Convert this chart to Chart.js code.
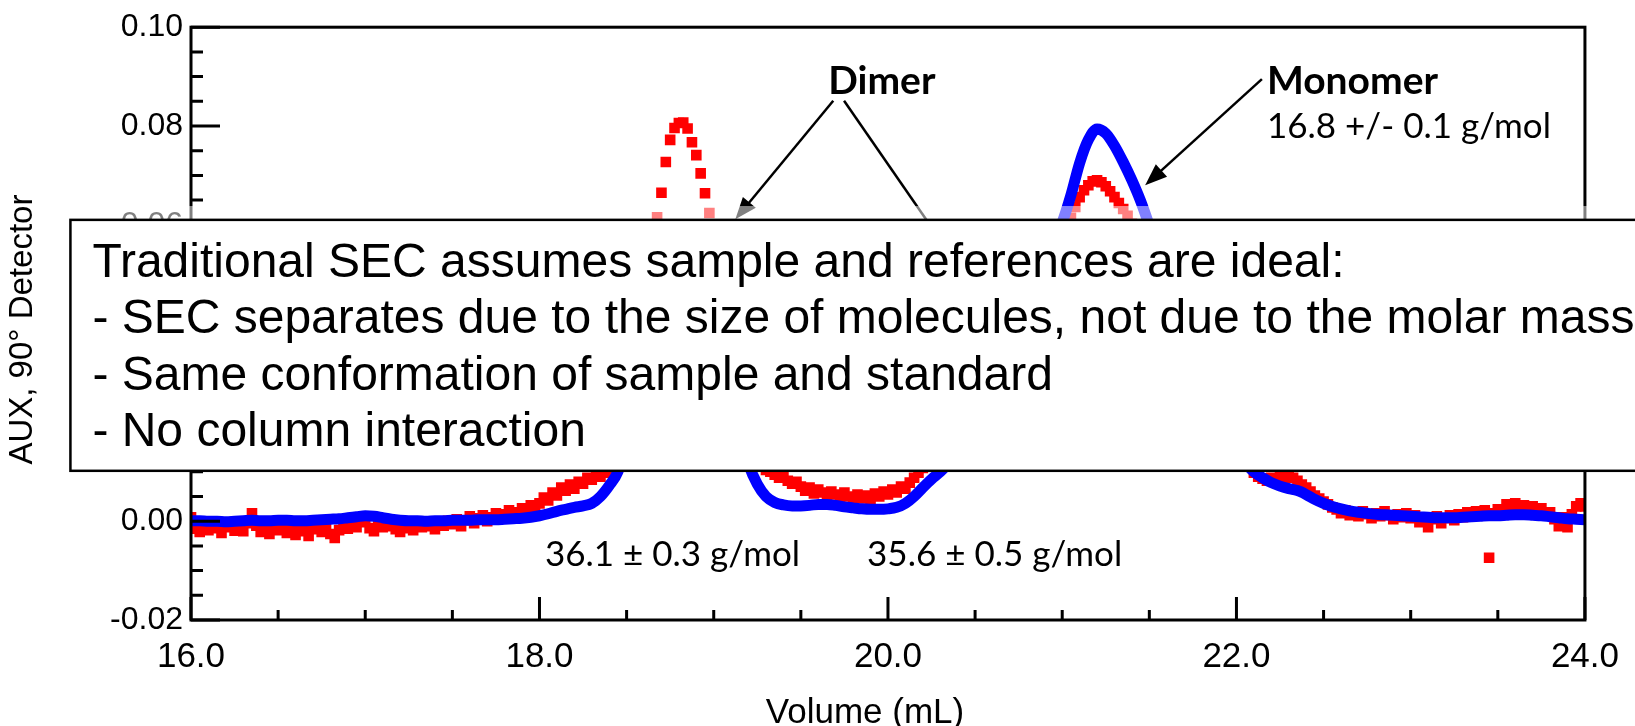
<!DOCTYPE html>
<html>
<head>
<meta charset="utf-8">
<script src="https://cdn.jsdelivr.net/npm/chart.js@4.4.0/dist/chart.umd.min.js"></script>
<style>
  html, body { margin: 0; padding: 0; background: #fff; }
  #wrap { width: 1635px; height: 726px; }
</style>
</head>
<body>
<div id="wrap"><canvas id="chartSec" width="1635" height="726"></canvas></div>
<script>
// sample trace (red squares), one reading every 0.025 mL from 16.0 mL
const redStart = 16.0;
const redStep = 0.025;
const redSignal = [
  0.0008, -0.0015, -0.0022, -0.0010, -0.0018, -0.0008, -0.0014, -0.0024, -0.0012, -0.0006, -0.0019, -0.0011, -0.0020, -0.0004, 0.0016, -0.0009, -0.0022, -0.0014, -0.0026, -0.0012, // 16.0
  -0.0018, -0.0008, -0.0024, -0.0015, -0.0028, -0.0012, -0.0020, -0.0030, -0.0016, -0.0009, -0.0022, -0.0013, -0.0026, -0.0034, -0.0018, -0.0008, -0.0015, -0.0004, -0.0012, -0.0002, // 16.5
  0.0006, -0.0014, -0.0020, -0.0006, -0.0012, 0.0002, -0.0010, -0.0016, -0.0022, -0.0008, -0.0014, -0.0018, -0.0006, -0.0012, -0.0002, -0.0010, -0.0016, -0.0004, -0.0009, 0.0001, // 17.0
  -0.0006, 0.0004, -0.0010, 0.0002, 0.0010, -0.0004, 0.0006, 0.0012, 0.0000, 0.0008, 0.0016, 0.0006, 0.0014, 0.0022, 0.0010, 0.0018, 0.0026, 0.0020, 0.0032, 0.0026, // 17.5
  0.0036, 0.0048, 0.0042, 0.0058, 0.0052, 0.0068, 0.0062, 0.0074, 0.0066, 0.0080, 0.0076, 0.0088, 0.0084, 0.0094, 0.0090, 0.0098, 0.0100, 0.0106, 0.0120, 0.0150, // 18.0
  0.0190, 0.0250, 0.0320, 0.0390, 0.0460, 0.0520, 0.0570, 0.0615, 0.0665, 0.0727, 0.0772, 0.0796, 0.0806, 0.0807, 0.0795, 0.0767, 0.0741, 0.0704, 0.0664, 0.0624, // 18.5
  0.0570, 0.0510, 0.0450, 0.0390, 0.0340, 0.0290, 0.0250, 0.0210, 0.0180, 0.0150, 0.0130, 0.0115, 0.0104, 0.0100, 0.0094, 0.0088, 0.0092, 0.0082, 0.0076, 0.0080, // 19.0
  0.0070, 0.0062, 0.0068, 0.0056, 0.0064, 0.0058, 0.0052, 0.0060, 0.0054, 0.0048, 0.0058, 0.0050, 0.0044, 0.0054, 0.0046, 0.0052, 0.0042, 0.0056, 0.0050, 0.0060, // 19.5
  0.0054, 0.0064, 0.0058, 0.0070, 0.0066, 0.0078, 0.0088, 0.0098, 0.0108, 0.0116, 0.0124, 0.0132, 0.0140, 0.0149, 0.0158, 0.0168, 0.0178, 0.0189, 0.0200, 0.0212, // 20.0
  0.0225, 0.0238, 0.0252, 0.0266, 0.0281, 0.0297, 0.0313, 0.0330, 0.0348, 0.0366, 0.0385, 0.0404, 0.0424, 0.0444, 0.0464, 0.0484, 0.0504, 0.0524, 0.0543, 0.0562, // 20.5
  0.0580, 0.0598, 0.0614, 0.0636, 0.0656, 0.0670, 0.0680, 0.0688, 0.0690, 0.0686, 0.0678, 0.0668, 0.0656, 0.0644, 0.0632, 0.0618, 0.0602, 0.0586, 0.0568, 0.0550, // 21.0
  0.0530, 0.0510, 0.0488, 0.0466, 0.0443, 0.0420, 0.0397, 0.0374, 0.0351, 0.0329, 0.0307, 0.0286, 0.0266, 0.0247, 0.0229, 0.0212, 0.0196, 0.0181, 0.0167, 0.0154, // 21.5
  0.0142, 0.0131, 0.0121, 0.0112, 0.0098, 0.0090, 0.0086, 0.0082, 0.0088, 0.0084, 0.0090, 0.0086, 0.0092, 0.0088, 0.0082, 0.0074, 0.0068, 0.0060, 0.0052, 0.0046, // 22.0
  0.0040, 0.0034, 0.0028, 0.0024, 0.0016, 0.0022, 0.0012, 0.0018, 0.0010, 0.0020, 0.0014, 0.0006, 0.0016, 0.0010, 0.0020, 0.0012, 0.0004, 0.0014, 0.0008, 0.0016, // 22.5
  0.0006, 0.0012, -0.0002, 0.0008, -0.0012, 0.0004, 0.0010, -0.0004, 0.0006, 0.0012, 0.0002, 0.0014, 0.0008, 0.0018, 0.0010, 0.0020, 0.0012, 0.0022, -0.0074, 0.0016, // 23.0
  0.0024, 0.0016, 0.0034, 0.0026, 0.0036, 0.0028, 0.0032, 0.0022, 0.0030, 0.0020, 0.0026, 0.0012, 0.0018, 0.0004, -0.0010, 0.0008, -0.0012, 0.0014, 0.0030, 0.0036, // 23.5
  0.0030 // 24.0
];

// standard trace (blue), one reading every 0.05 mL from 16.0 mL
const blueStart = 16.0;
const blueStep = 0.05;
const blueSignal = [
  0.0001, 0.0001, 0.0000, 0.0000, -0.0001, 0.0000, 0.0001, 0.0002, 0.0001, 0.0001, 0.0002, 0.0002, 0.0001, 0.0001, 0.0002, 0.0003, 0.0004, 0.0005, 0.0007, 0.0009, // 16
  0.0011, 0.0010, 0.0007, 0.0004, 0.0002, 0.0001, 0.0001, 0.0000, 0.0001, 0.0001, 0.0002, 0.0002, 0.0002, 0.0003, 0.0003, 0.0003, 0.0004, 0.0005, 0.0006, 0.0008, // 17
  0.0011, 0.0015, 0.0020, 0.0024, 0.0028, 0.0031, 0.0036, 0.0050, 0.0072, 0.0100, 0.0160, 0.0220, 0.0290, 0.0360, 0.0420, 0.0465, 0.0490, 0.0495, 0.0475, 0.0435, // 18
  0.0380, 0.0315, 0.0245, 0.0175, 0.0115, 0.0075, 0.0050, 0.0038, 0.0033, 0.0031, 0.0031, 0.0032, 0.0034, 0.0034, 0.0032, 0.0029, 0.0027, 0.0025, 0.0024, 0.0024, // 19
  0.0025, 0.0028, 0.0036, 0.0050, 0.0068, 0.0085, 0.0100, 0.0118, 0.0140, 0.0165, 0.0195, 0.0230, 0.0270, 0.0315, 0.0365, 0.0410, 0.0450, 0.0495, 0.0535, 0.0570, // 20
  0.0605, 0.0660, 0.0725, 0.0772, 0.0794, 0.0785, 0.0760, 0.0727, 0.0690, 0.0648, 0.0598, 0.0545, 0.0490, 0.0435, 0.0380, 0.0330, 0.0282, 0.0240, 0.0200, 0.0165, // 21
  0.0135, 0.0118, 0.0100, 0.0088, 0.0078, 0.0071, 0.0066, 0.0062, 0.0054, 0.0044, 0.0036, 0.0030, 0.0025, 0.0021, 0.0018, 0.0016, 0.0014, 0.0013, 0.0012, 0.0011, // 22
  0.0010, 0.0009, 0.0008, 0.0007, 0.0007, 0.0007, 0.0008, 0.0009, 0.0010, 0.0011, 0.0011, 0.0012, 0.0013, 0.0013, 0.0012, 0.0011, 0.0009, 0.0007, 0.0005, 0.0004, // 23
  0.0003 // 24
];

const boxLines = [
  'Traditional SEC assumes sample and references are ideal:',
  '- SEC separates due to the size of molecules, not due to the molar mass',
  '- Same conformation of sample and standard',
  '- No column interaction'
];
const dimerMasses = ['36.1 \u00b1 0.3 g/mol', '35.6 \u00b1 0.5 g/mol'];
const monomerMass = '16.8 +/- 0.1 g/mol';

const redPoints = redSignal.map((s, i) => ({ x: redStart + i * redStep, y: s }));
const bluePoints = blueSignal.map((s, i) => ({ x: blueStart + i * blueStep, y: s }));

const ARIAL = '"Liberation Sans", Arial, sans-serif';
const CALIB = 'Lato, "Open Sans", sans-serif';

function arrow(ctx, x1, y1, x2, y2, head) {
  const ang = Math.atan2(y2 - y1, x2 - x1);
  ctx.beginPath();
  ctx.moveTo(x1, y1);
  ctx.lineTo(x2 - Math.cos(ang) * head * 0.8, y2 - Math.sin(ang) * head * 0.8);
  ctx.stroke();
  if (!head) return;
  ctx.beginPath();
  ctx.moveTo(x2, y2);
  ctx.lineTo(x2 - head * Math.cos(ang) + head * 0.38 * Math.sin(ang), y2 - head * Math.sin(ang) - head * 0.38 * Math.cos(ang));
  ctx.lineTo(x2 - head * Math.cos(ang) - head * 0.38 * Math.sin(ang), y2 - head * Math.sin(ang) + head * 0.38 * Math.cos(ang));
  ctx.closePath();
  ctx.fill();
}

// frame, inside ticks, callouts and the assumptions box
const secOverlay = {
  id: 'secOverlay',
  afterDatasetsDraw(chart) {
    const { ctx, chartArea: a, scales: { x, y } } = chart;
    const px = v => x.getPixelForValue(v);
    const py = v => y.getPixelForValue(v);
    ctx.save();

    ctx.strokeStyle = '#000';
    ctx.lineWidth = 3;
    ctx.strokeRect(a.left, a.top, a.right - a.left, a.bottom - a.top);
    ctx.beginPath();
    for (let i = 0; i <= 24; i++) {
      const yy = py(-0.02 + i * 0.005);
      ctx.moveTo(a.left, yy);
      ctx.lineTo(a.left + (i % 4 === 0 ? 29 : 12), yy);
    }
    for (let i = 0; i <= 16; i++) {
      const xx = px(16 + i * 0.5);
      ctx.moveTo(xx, a.bottom);
      ctx.lineTo(xx, a.bottom - (i % 4 === 0 ? 23 : 10));
    }
    ctx.stroke();

    // axis titles
    ctx.fillStyle = '#000';
    ctx.textAlign = 'center';
    ctx.textBaseline = 'middle';
    ctx.font = '35px ' + ARIAL;
    ctx.fillText('Volume (mL)', px(19.868), 713);
    ctx.font = '33px ' + ARIAL;
    ctx.save();
    ctx.translate(23, (a.top + a.bottom) / 2 + 6);
    ctx.rotate(-Math.PI / 2);
    ctx.fillText('AUX, 90\u00b0 Detector', 0, 0);
    ctx.restore();

    // peak callouts
    ctx.textAlign = 'left';
    ctx.textBaseline = 'alphabetic';
    ctx.font = 'bold 39px ' + CALIB;
    ctx.fillText('Dimer', px(19.657), py(0.0865));
    ctx.fillText('Monomer', px(22.175), py(0.0865));
    ctx.font = '35px ' + CALIB;
    ctx.fillText(monomerMass, px(22.175), py(0.0775));
    ctx.fillText(dimerMasses[0], px(18.031), py(-0.0091));
    ctx.fillText(dimerMasses[1], px(19.880), py(-0.0091));

    ctx.lineWidth = 2.5;
    ctx.strokeStyle = '#000';
    ctx.fillStyle = '#000';
    arrow(ctx, px(19.686), py(0.0851), px(19.124), py(0.0611), 22);
    arrow(ctx, px(19.748), py(0.0851), px(20.25), py(0.0595), 0);
    arrow(ctx, px(22.146), py(0.0895), px(21.476), py(0.0680), 22);

    // faded strip just above the box
    const boxL = px(15.308), boxT = py(0.0610), boxB = py(0.0102);
    ctx.fillStyle = 'rgba(255,255,255,0.5)';
    ctx.fillRect(boxL, py(0.0638), chart.width - boxL, boxT - py(0.0638));

    ctx.fillStyle = '#fff';
    ctx.fillRect(boxL, boxT, chart.width - boxL + 10, boxB - boxT);
    ctx.lineWidth = 2.5;
    ctx.strokeStyle = '#000';
    ctx.strokeRect(boxL, boxT, chart.width - boxL + 10, boxB - boxT);

    ctx.fillStyle = '#000';
    ctx.font = '48px ' + ARIAL;
    const base = [0.0495, 0.0380, 0.0265, 0.0152];
    boxLines.forEach((t, i) => ctx.fillText(t, px(15.434), py(base[i])));
    ctx.restore();
  }
};

new Chart(document.getElementById('chartSec').getContext('2d'), {
  type: 'scatter',
  data: {
    datasets: [
      { label: 'Standard', data: bluePoints, showLine: true, borderColor: '#0000ff', borderWidth: 11,
        pointRadius: 0, cubicInterpolationMode: 'monotone', order: 0 },
      { label: 'Sample', data: redPoints, showLine: false, pointStyle: 'rect', pointRadius: 7.5,
        backgroundColor: '#ff0000', borderWidth: 0, order: 1 }
    ]
  },
  options: {
    responsive: false,
    animation: false,
    events: [],
    layout: { padding: { left: 0, right: 46, top: 24, bottom: 0 } },
    plugins: { legend: { display: false }, tooltip: { enabled: false } },
    scales: {
      x: {
        type: 'linear', min: 16, max: 24,
        grid: { display: false, drawTicks: false }, border: { display: false },
        ticks: { stepSize: 2, callback: v => v.toFixed(1), color: '#000', padding: 16, maxRotation: 0,
                 font: { family: ARIAL, size: 35 } },
        afterFit: s => { s.height = 106; }
      },
      y: {
        min: -0.02, max: 0.10,
        grid: { display: false, drawTicks: false }, border: { display: false },
        ticks: { stepSize: 0.02, callback: v => v.toFixed(2), color: '#000', padding: 8,
                 font: { family: ARIAL, size: 32 } },
        afterFit: s => { s.width = 191; }
      }
    }
  },
  plugins: [secOverlay]
});
</script>
</body>
</html>
